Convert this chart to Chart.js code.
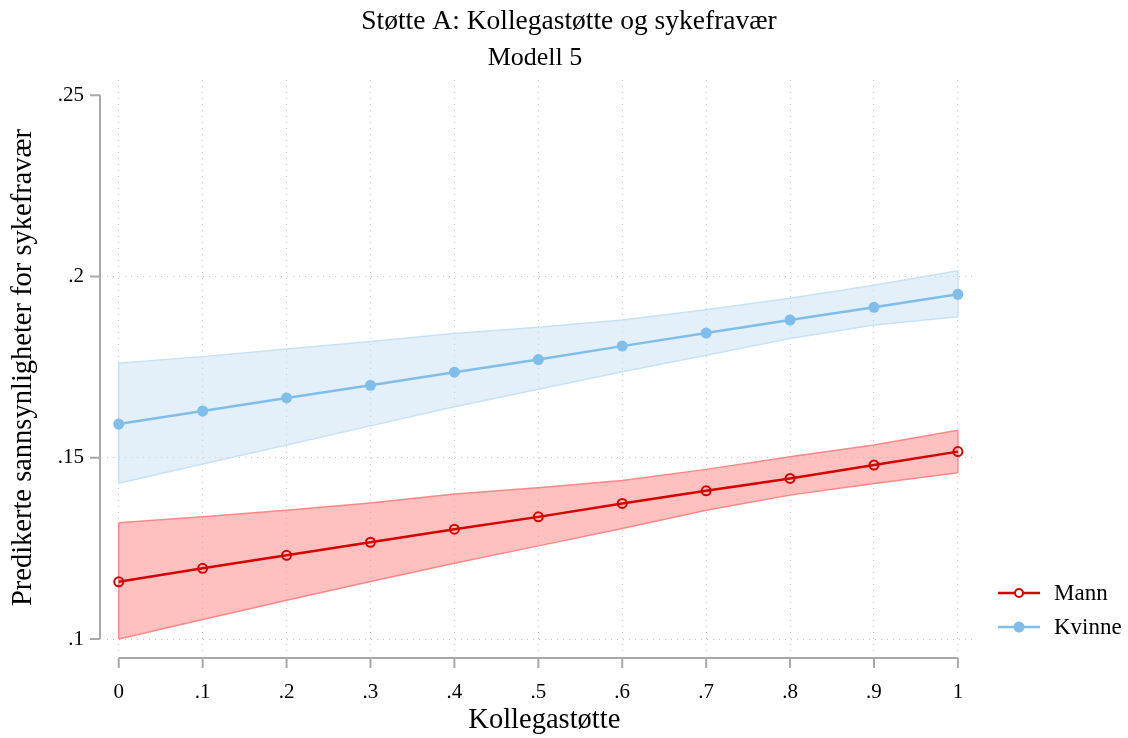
<!DOCTYPE html>
<html>
<head>
<meta charset="utf-8">
<script src="https://cdn.jsdelivr.net/npm/chart.js@4.4.1/dist/chart.umd.min.js"></script>
<style>
  html, body { margin: 0; padding: 0; background: #fff; }
  #wrap { width: 1128px; height: 738px; }
</style>
</head>
<body>
<div id="wrap"><canvas id="chart"></canvas></div>
<script>
// DATA
const xValues = [0, 0.1, 0.2, 0.3, 0.4, 0.5, 0.6, 0.7, 0.8, 0.9, 1];
const xTickLabels = ['0', '.1', '.2', '.3', '.4', '.5', '.6', '.7', '.8', '.9', '1'];
const yTicks = [0.1, 0.15, 0.2, 0.25];
const yTickLabels = ['.1', '.15', '.2', '.25'];

const mann = [.1158, .1195, .1231, .1267, .1303, .1337, .1374, .1409, .1443, .1480, .1517];
const mannUpper = [.1321, .1337, .1355, .1375, .1400, .1417, .1437, .1468, .1503, .1535, .1576];
const mannLower = [.1000, .1054, .1107, .1159, .1209, .1257, .1305, .1355, .1397, .1429, .1459];

const kvinne = [.1593, .1629, .1665, .1700, .1736, .1771, .1808, .1844, .1880, .1915, .1951];
const kvinneUpper = [.1761, .1779, .1800, .1821, .1843, .1860, .1880, .1908, .1940, .1976, .2016];
const kvinneLower = [.1430, .1483, .1535, .1588, .1641, .1689, .1737, .1783, .1829, .1866, .1889];

const seriesNames = ['Mann', 'Kvinne'];

// COLOURS
const RED = 'rgb(215,0,0)';
const RED_FILL = 'rgba(255,150,150,0.6)';
const RED_EDGE = 'rgb(255,135,135)';
const BLUE = 'rgb(127,190,232)';
const BLUE_FILL = 'rgba(200,225,245,0.5)';
const BLUE_EDGE = 'rgb(200,226,244)';
const AXIS = '#a8a8a8';
const FONT = '"Liberation Serif", "DejaVu Serif", serif';

function pts(ys) {
    return xValues.map((x, i) => ({ x: x, y: ys[i] }));
}

// closes the confidence bands at both ends, like the reference
const bandEdges = {
    id: 'bandEdges',
    beforeDatasetsDraw(chart) {
        const ctx = chart.ctx;
        const xs = chart.scales.x, ys = chart.scales.y;
        const bands = [[mannLower, mannUpper, RED_EDGE], [kvinneLower, kvinneUpper, BLUE_EDGE]];
        const last = xValues.length - 1;
        ctx.save();
        ctx.lineWidth = 1.5;
        bands.forEach(b => {
            ctx.strokeStyle = b[2];
            ctx.beginPath();
            [0, last].forEach(i => {
                const px = xs.getPixelForValue(xValues[i]);
                ctx.moveTo(px, ys.getPixelForValue(b[0][i]));
                ctx.lineTo(px, ys.getPixelForValue(b[1][i]));
            });
            ctx.stroke();
        });
        ctx.restore();
    }
};

// draws titles, offset axes and the legend
const stataPlugin = {
    id: 'stata',
    afterDraw(chart) {
        const ctx = chart.ctx;
        const xs = chart.scales.x, ys = chart.scales.y;
        const area = chart.chartArea;
        ctx.save();

        // titles
        ctx.fillStyle = '#000';
        ctx.textAlign = 'center';
        ctx.textBaseline = 'middle';
        ctx.font = '27.5px ' + FONT;
        ctx.fillText('Støtte A: Kollegastøtte og sykefravær', 569, 22);
        ctx.font = '26px ' + FONT;
        ctx.fillText('Modell 5', 535, 58);

        // y axis (offset to the left of the plot region)
        const yAxisX = area.left - 7;
        ctx.strokeStyle = AXIS;
        ctx.lineWidth = 2;
        ctx.beginPath();
        ctx.moveTo(yAxisX, ys.getPixelForValue(yTicks[yTicks.length - 1]));
        ctx.lineTo(yAxisX, ys.getPixelForValue(yTicks[0]));
        yTicks.forEach(v => {
            const p = ys.getPixelForValue(v);
            ctx.moveTo(yAxisX - 10, p);
            ctx.lineTo(yAxisX, p);
        });
        ctx.stroke();

        // x axis (offset below)
        const xAxisY = area.bottom + 3;
        ctx.beginPath();
        ctx.moveTo(xs.getPixelForValue(xValues[0]), xAxisY);
        ctx.lineTo(xs.getPixelForValue(xValues[xValues.length - 1]), xAxisY);
        xValues.forEach(v => {
            const p = xs.getPixelForValue(v);
            ctx.moveTo(p, xAxisY);
            ctx.lineTo(p, xAxisY + 10);
        });
        ctx.stroke();

        // axis titles
        ctx.fillStyle = '#000';
        ctx.font = '28.5px ' + FONT;
        ctx.fillText('Kollegastøtte', (xs.getPixelForValue(0) + xs.getPixelForValue(1)) / 2 + 6, 721);
        ctx.save();
        ctx.translate(24, (area.top + area.bottom) / 2);
        ctx.rotate(-Math.PI / 2);
        ctx.fillText('Predikerte sannsynligheter for sykefravær', 0, 0);
        ctx.restore();

        // legend
        const legendItems = [
            { name: seriesNames[0], color: RED, hollow: true, r: 4 },
            { name: seriesNames[1], color: BLUE, hollow: false, r: 5.5 }
        ];
        ctx.font = '23px ' + FONT;
        ctx.textAlign = 'left';
        legendItems.forEach((it, i) => {
            const y = 593 + i * 34;
            ctx.strokeStyle = it.color;
            ctx.lineWidth = 2.5;
            ctx.beginPath();
            ctx.moveTo(998, y);
            ctx.lineTo(1040, y);
            ctx.stroke();
            ctx.beginPath();
            ctx.arc(1019, y, it.r, 0, Math.PI * 2);
            if (it.hollow) {
                ctx.fillStyle = '#fff';
                ctx.fill();
                ctx.lineWidth = 2;
                ctx.stroke();
            } else {
                ctx.fillStyle = it.color;
                ctx.fill();
            }
            ctx.fillStyle = '#000';
            ctx.fillText(it.name, 1054, y + 1);
        });

        ctx.restore();
    }
};

const ctx = document.getElementById('chart').getContext('2d');
new Chart(ctx, {
    type: 'line',
    data: {
        datasets: [
            {
                label: seriesNames[0],
                data: pts(mann),
                borderColor: RED,
                borderWidth: 2.5,
                pointRadius: 4.5,
                pointBorderWidth: 2,
                pointBorderColor: RED,
                pointBackgroundColor: 'rgba(0,0,0,0)',
                fill: false,
                order: 0
            },
            {
                label: seriesNames[1],
                data: pts(kvinne),
                borderColor: BLUE,
                borderWidth: 2.5,
                pointRadius: 5.5,
                pointBorderWidth: 0,
                pointBackgroundColor: BLUE,
                fill: false,
                order: 0
            },
            {
                label: 'Mann lower',
                data: pts(mannLower),
                borderColor: RED_EDGE,
                borderWidth: 1.5,
                pointRadius: 0,
                fill: false,
                order: 1
            },
            {
                label: 'Mann upper',
                data: pts(mannUpper),
                borderColor: RED_EDGE,
                borderWidth: 1.5,
                pointRadius: 0,
                backgroundColor: RED_FILL,
                fill: '-1',
                order: 1
            },
            {
                label: 'Kvinne lower',
                data: pts(kvinneLower),
                borderColor: BLUE_EDGE,
                borderWidth: 1.5,
                pointRadius: 0,
                fill: false,
                order: 2
            },
            {
                label: 'Kvinne upper',
                data: pts(kvinneUpper),
                borderColor: BLUE_EDGE,
                borderWidth: 1.5,
                pointRadius: 0,
                backgroundColor: BLUE_FILL,
                fill: '-1',
                order: 2
            }
        ]
    },
    options: {
        responsive: true,
        maintainAspectRatio: false,
        animation: false,
        layout: { padding: { left: 0, top: 80, right: 155, bottom: 0 } },
        elements: { line: { tension: 0 } },
        plugins: {
            legend: { display: false },
            tooltip: { enabled: false }
        },
        scales: {
            x: {
                type: 'linear',
                min: -0.014,
                max: 1.018,
                afterFit: s => { s.height = 83; },
                afterBuildTicks: s => { s.ticks = xValues.map(v => ({ value: v })); },
                ticks: {
                    padding: 25,
                    color: '#000',
                    font: { family: FONT, size: 21 },
                    maxRotation: 0,
                    callback: (v) => xTickLabels[xValues.indexOf(v)]
                },
                grid: { drawTicks: false, color: '#c4c4c4', lineWidth: 1 },
                border: { display: false, dash: [1, 5] }
            },
            y: {
                type: 'linear',
                min: 0.0956,
                max: 0.2542,
                afterFit: s => { s.width = 107; },
                afterBuildTicks: s => { s.ticks = yTicks.map(v => ({ value: v })); },
                ticks: {
                    padding: 23,
                    color: '#000',
                    font: { family: FONT, size: 21 },
                    callback: (v) => yTickLabels[yTicks.indexOf(v)]
                },
                grid: {
                    drawTicks: false,
                    lineWidth: 1,
                    color: c => (c.tick && c.tick.value === 0.25) ? 'rgba(0,0,0,0)' : '#c4c4c4'
                },
                border: { display: false, dash: [1, 5] }
            }
        }
    },
    plugins: [bandEdges, stataPlugin]
});
</script>
</body>
</html>
